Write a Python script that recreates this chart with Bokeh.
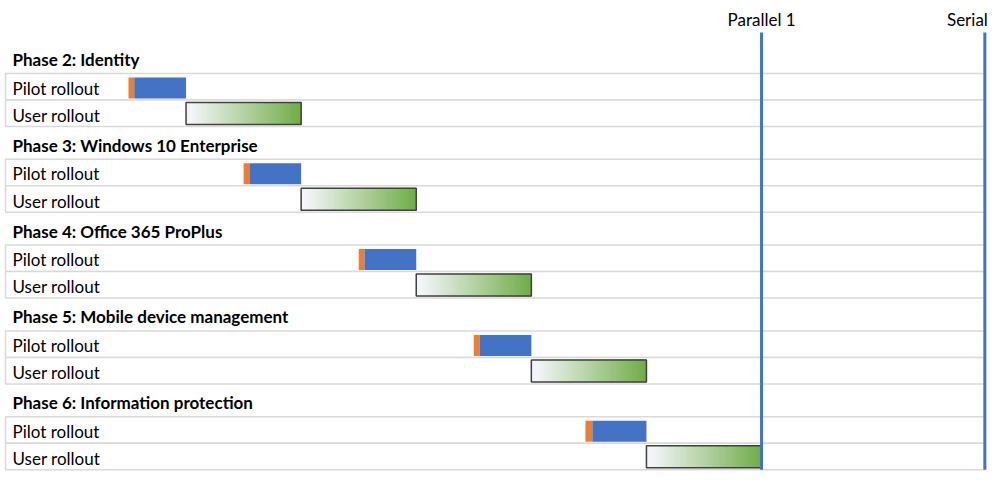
import numpy as np
from bokeh.plotting import figure
from bokeh.models import Range1d
from bokeh.core.properties import value
from bokeh.embed import file_html
from bokeh.resources import INLINE

# ---- data (weeks) ----
phases = ["Phase 2: Identity", "Phase 3: Windows 10 Enterprise", "Phase 4: Office 365 ProPlus",
          "Phase 5: Mobile device management", "Phase 6: Information protection"]
tasks = ["Pilot rollout", "User rollout"]
prep_start = [0.0, 10.0, 20.0, 30.0, 39.7]
pilot_start = [0.5, 10.5, 20.5, 30.5, 40.3]
pilot_end = [5.0, 15.0, 25.0, 35.0, 45.0]
user_start = [5.0, 15.0, 25.0, 35.0, 45.0]
user_end = [15.0, 25.0, 35.0, 45.0, 55.0]
milestones = ["Parallel 1", "Serial"]
milestone_week = [55.0, 74.4]

# ---- layout / style ----
W, H = 991, 472
px_per_week = 11.51
x0 = -128 / px_per_week
x1 = x0 + W / px_per_week
FONT = "Lato"
FS = "17px"
BLUE = "#4472c4"
ORANGE = "#ed7d31"
GREEN = (0x70, 0xad, 0x47)
LIGHT = (0xf3, 0xf5, 0xf8)

phase_step = 85.8
first_row_top = 73.0
row_h = 26.5

p = figure(width=W, height=H, output_backend="svg", toolbar_location=None,
           x_range=Range1d(x0, x1), y_range=Range1d(H, 0),
           x_axis_location=None, y_axis_location=None, min_border=0)
p.grid.visible = False
p.outline_line_color = None
p.background_fill_color = "white"
p.border_fill_color = "white"

row_left = x0 + 5 / px_per_week
row_right = milestone_week[-1]

# row boxes
rl, rr, rt, rb = [], [], [], []
for i, _ in enumerate(phases):
    for j, _ in enumerate(tasks):
        top = first_row_top + i * phase_step + j * row_h
        rl.append(row_left); rr.append(row_right); rt.append(top); rb.append(top + row_h)
p.quad(left=rl, right=rr, top=rt, bottom=rb, fill_color="white",
       line_color="#d9d9d9", line_width=1.5)

# texts
hx, hy, hs = [], [], []
tx, ty, ts = [], [], []
for i, ph in enumerate(phases):
    top = first_row_top + i * phase_step
    hx.append(x0); hy.append(top - 14); hs.append(ph)
    for j, t in enumerate(tasks):
        tx.append(x0); ty.append(top + j * row_h + 14.5 + 0.7 * j); ts.append(t)
p.text(x=hx, y=hy, text=hs, x_offset=12, text_font=value(FONT), text_font_size=FS,
       text_font_style="bold", text_baseline="middle", text_color="black")
p.text(x=tx, y=ty, text=ts, x_offset=12, text_font=value(FONT), text_font_size=FS,
       text_baseline="middle", text_color="black")

# pilot bars
pt, pb = [], []
for i in range(len(phases)):
    top = first_row_top + i * phase_step
    pt.append(top + 4); pb.append(top + 25)
p.quad(left=prep_start, right=pilot_start, top=pt, bottom=pb, fill_color=ORANGE, line_color=None)
p.quad(left=pilot_start, right=pilot_end, top=pt, bottom=pb, fill_color=BLUE, line_color=None)

# user bars with gradient
n = 60
gl, gr, gt, gb, gc = [], [], [], [], []
ut, ub = [], []
for i in range(len(phases)):
    top = first_row_top + i * phase_step + row_h + 2.5
    bot = top + 22
    ut.append(top); ub.append(bot)
    s, e = user_start[i], user_end[i]
    for k in range(n):
        t = (k + 0.5) / n
        f = min(max((t - 0.05) / 0.95, 0), 1)
        c = tuple(int(round(LIGHT[m] + (GREEN[m] - LIGHT[m]) * f)) for m in range(3))
        gl.append(s + (e - s) * k / n); gr.append(s + (e - s) * (k + 1) / n)
        gt.append(top); gb.append(bot); gc.append("#%02x%02x%02x" % c)
p.quad(left=gl, right=gr, top=gt, bottom=gb, fill_color=gc, line_color=gc, line_width=1)
p.quad(left=user_start, right=user_end, top=ut, bottom=ub, fill_color=None,
       line_color="#404040", line_width=1.5)

# milestone lines
last_bottom = first_row_top + (len(phases) - 1) * phase_step + 2 * row_h
p.segment(x0=milestone_week, x1=milestone_week, y0=[32] * len(milestones),
          y1=[last_bottom] * len(milestones), line_color=BLUE, line_width=3)
p.text(x=[milestone_week[0]], y=[19], text=[milestones[0]], text_align="center",
       text_font=value(FONT), text_font_size=FS, text_baseline="middle", text_color="black")
p.text(x=[milestone_week[1]], y=[19], text=[milestones[1]], text_align="right", x_offset=3,
       text_font=value(FONT), text_font_size=FS, text_baseline="middle", text_color="black")

open("out.html", "w").write(file_html(p, INLINE))
